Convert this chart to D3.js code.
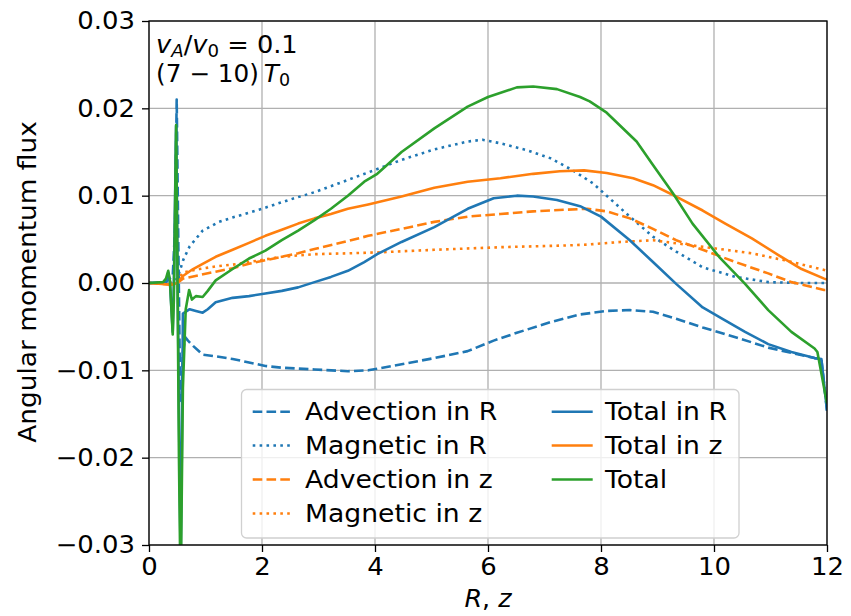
<!DOCTYPE html>
<html><head><meta charset="utf-8">
<script src="https://cdn.jsdelivr.net/npm/d3@7"></script>
<style>
body{margin:0;background:#fff;}
svg text{font-family:"DejaVu Sans",sans-serif;fill:#000;}
</style></head><body>
<svg id="c" width="851" height="616"></svg>
<script>
// ---- data (R, flux) ----
const advR = [[0,0],[0.3,0.0001],[0.42,0.0008],[0.46,0.006],[0.49,0.021],[0.52,0.004],[0.55,-0.012],[0.57,-0.0135],[0.6,-0.008],[0.64,-0.0062],[0.69,-0.0066],[0.78,-0.0072],[0.95,-0.0082],[1.18,-0.0084],[1.48,-0.0087],[1.77,-0.0091],[2.06,-0.0095],[2.35,-0.0097],[2.93,-0.0099],[3.52,-0.0101],[3.88,-0.0100],[4.47,-0.0093],[5.05,-0.0086],[5.64,-0.0078],[6.1,-0.0066],[6.51,-0.0057],[7.1,-0.0045],[7.63,-0.0036],[8.1,-0.0032],[8.51,-0.0031],[8.92,-0.0033],[9.33,-0.0041],[9.8,-0.0051],[10.38,-0.0062],[10.96,-0.0074],[11.37,-0.0080],[11.78,-0.0086],[11.9,-0.0087],[12,-0.0146]];
const magR = [[0,0],[0.4,0],[0.5,0.0005],[0.55,0.0015],[0.61,0.0027],[0.72,0.0042],[0.95,0.006],[1.24,0.007],[1.48,0.0075],[2,0.0085],[2.47,0.0095],[2.93,0.0104],[3.52,0.0118],[3.98,0.0129],[4.47,0.0141],[5.05,0.0153],[5.64,0.0162],[5.9,0.0164],[6.22,0.016],[6.69,0.0152],[7.1,0.0143],[7.5,0.0129],[7.86,0.0114],[8.1,0.01],[8.51,0.0076],[8.92,0.0053],[9.33,0.0036],[9.8,0.0018],[10.38,0.0007],[10.96,0.0001],[11.5,0],[12,0]];
const advZ = [[0,0],[0.4,-0.0002],[0.5,0],[0.6,0.0005],[0.89,0.0009],[1.18,0.0013],[1.48,0.0017],[1.77,0.0022],[2.06,0.0026],[2.35,0.003],[2.64,0.0034],[2.93,0.0039],[3.52,0.0048],[3.88,0.0054],[4.47,0.0062],[5.05,0.007],[5.64,0.0076],[6.22,0.0079],[6.8,0.0082],[7.39,0.0084],[7.76,0.0085],[8.1,0.0082],[8.51,0.0074],[8.92,0.0062],[9.33,0.0049],[9.8,0.0038],[10.38,0.0024],[10.96,0.0011],[11.37,0.0001],[11.95,-0.0008],[12,-0.0008]];
const magZ = [[0,0],[0.4,0],[0.5,0.0002],[0.6,0.0012],[0.89,0.0016],[1.18,0.0019],[1.48,0.0021],[1.77,0.0024],[2.35,0.003],[2.93,0.0033],[3.52,0.0034],[4.04,0.0035],[5.05,0.0038],[6.22,0.0041],[7.39,0.0043],[7.76,0.0044],[8.34,0.0047],[8.92,0.0049],[9.5,0.0044],[10.09,0.0039],[10.67,0.0034],[11.25,0.0026],[11.95,0.0015],[12,0.0014]];
const totR = [[0,0],[0.3,0],[0.34,0.0012],[0.37,0.0002],[0.42,-0.0056],[0.44,0.0],[0.48,0.018],[0.5,0.005],[0.53,-0.015],[0.56,-0.032],[0.58,-0.02],[0.6,-0.0035],[0.72,-0.003],[0.83,-0.0032],[0.95,-0.0034],[1.04,-0.003],[1.18,-0.0022],[1.48,-0.0017],[1.77,-0.0015],[2.06,-0.0012],[2.35,-0.0009],[2.64,-0.0005],[2.93,0.0001],[3.22,0.0007],[3.52,0.0014],[3.81,0.0024],[4.04,0.0033],[4.47,0.0047],[5.05,0.0064],[5.64,0.0085],[6.1,0.0097],[6.51,0.01],[6.8,0.0099],[7.22,0.0095],[7.63,0.0088],[8.0,0.0076],[8.51,0.0049],[8.92,0.0024],[9.33,-0.0001],[9.8,-0.0028],[10.15,-0.0041],[10.55,-0.0056],[10.96,-0.007],[11.37,-0.0079],[11.78,-0.0086],[11.9,-0.0087],[12,-0.0146]];
const totZ = [[0,0],[0.4,-0.0002],[0.5,0],[0.6,0.0008],[0.78,0.0016],[0.95,0.0022],[1.18,0.003],[1.48,0.0038],[1.77,0.0046],[2.06,0.0054],[2.35,0.0061],[2.64,0.0068],[2.93,0.0074],[3.22,0.0079],[3.52,0.0085],[3.88,0.009],[4.47,0.0099],[5.05,0.0109],[5.64,0.0116],[6.22,0.012],[6.8,0.0125],[7.27,0.0128],[7.7,0.0129],[8.1,0.0126],[8.57,0.012],[8.92,0.0112],[9.33,0.0099],[9.8,0.0083],[10.2,0.0068],[10.67,0.0051],[11.14,0.0032],[11.55,0.0016],[11.95,0.0005],[12,0.0004]];
const total = [[0,0],[0.25,0.0001],[0.3,0.0005],[0.34,0.0014],[0.37,0.0003],[0.42,-0.0059],[0.44,-0.002],[0.48,0.0181],[0.5,0.004],[0.53,-0.02],[0.56,-0.036],[0.6,-0.012],[0.65,-0.003],[0.71,-0.0008],[0.76,-0.0019],[0.83,-0.0015],[0.95,-0.0016],[1.04,-0.0009],[1.18,0.0003],[1.48,0.0016],[1.77,0.0028],[2.06,0.0037],[2.35,0.0049],[2.64,0.006],[2.93,0.0072],[3.22,0.0085],[3.52,0.01],[3.81,0.0116],[4.04,0.0125],[4.47,0.015],[5.05,0.0177],[5.64,0.0202],[6.0,0.0213],[6.51,0.0224],[6.8,0.0225],[7.22,0.0222],[7.63,0.0213],[7.8,0.0208],[8.1,0.0195],[8.63,0.0162],[8.92,0.0135],[9.27,0.0103],[9.62,0.0068],[10.09,0.003],[10.55,-0.0001],[10.96,-0.0031],[11.37,-0.0056],[11.78,-0.0075],[11.83,-0.0079],[12,-0.0138]];

const xTicks = [0,2,4,6,8,10,12];
const yTicks = [-0.03,-0.02,-0.01,0,0.01,0.02,0.03];
const seriesNames = ["Advection in R","Magnetic in R","Advection in z","Magnetic in z","Total in R","Total in z","Total"];

// ---- styles ----
const C = {blue:"#1f77b4", orange:"#ff7f0e", green:"#2ca02c"};
const LW = 2.6;
const DASH = "9.6,4.2", DOT = "2.6,4.3";
const series = [
  {d:advR, c:C.blue, dash:DASH},
  {d:magR, c:C.blue, dash:DOT},
  {d:advZ, c:C.orange, dash:DASH},
  {d:magZ, c:C.orange, dash:DOT},
  {d:totR, c:C.blue, dash:null},
  {d:totZ, c:C.orange, dash:null},
  {d:total, c:C.green, dash:null}
];

const L=149, R=827, T=21, B=545;
const x = d3.scaleLinear().domain([0,12]).range([L,R]);
const y = d3.scaleLinear().domain([-0.03,0.03]).range([B,T]);
const svg = d3.select("#c");
const FS = 24;
const fmt = v => (v<0?"\u2212":"") + Math.abs(v).toFixed(2);

// stretch text horizontally about its anchor point
function stretch(sel, sx){
  sel.each(function(){
    const t = d3.select(this);
    const ax = +t.attr("x")||0, ay = +t.attr("y")||0;
    t.attr("transform",`translate(${ax},${ay}) scale(${sx},1) translate(${-ax},${-ay})`);
  });
}

// grid
const g = svg.append("g");
g.selectAll(".gx").data(xTicks).join("line").attr("x1",d=>x(d)).attr("x2",d=>x(d)).attr("y1",T).attr("y2",B)
 .attr("stroke","#b0b0b0").attr("stroke-width",1.3);
g.selectAll(".gy").data(yTicks).join("line").attr("y1",d=>y(d)).attr("y2",d=>y(d)).attr("x1",L).attr("x2",R)
 .attr("stroke","#b0b0b0").attr("stroke-width",1.3);

// lines
svg.append("clipPath").attr("id","clip").append("rect").attr("x",L).attr("y",T).attr("width",R-L).attr("height",B-T);
const line = d3.line().x(d=>x(d[0])).y(d=>y(d[1]));
const lg = svg.append("g").attr("clip-path","url(#clip)");
series.forEach(s=>{
  lg.append("path").attr("d",line(s.d)).attr("fill","none").attr("stroke",s.c)
    .attr("stroke-width",LW).attr("stroke-linejoin","round")
    .attr("stroke-dasharray",s.dash);
});

// axes
const xa = svg.append("g").attr("transform",`translate(0,${B})`)
  .call(d3.axisBottom(x).tickValues(xTicks).tickFormat(d3.format("d")).tickSize(7).tickPadding(6));
const ya = svg.append("g").attr("transform",`translate(${L},0)`)
  .call(d3.axisLeft(y).tickValues(yTicks).tickFormat(fmt).tickSize(7).tickPadding(7));
[xa,ya].forEach(a=>{
  a.select(".domain").remove();
  a.selectAll("line").attr("stroke","#000").attr("stroke-width",1.3);
  a.selectAll("text").attr("font-size",FS).attr("font-family","DejaVu Sans").attr("fill","#000");
  stretch(a.selectAll("text"),1.08);
});
// frame
svg.append("rect").attr("x",L).attr("y",T).attr("width",R-L).attr("height",B-T)
  .attr("fill","none").attr("stroke","#000").attr("stroke-width",1.3);

// axis labels
svg.append("text").attr("transform",`translate(36,282) rotate(-90) scale(1.1,1)`).attr("text-anchor","middle")
  .attr("font-size",FS).text("Angular momentum flux");
const xl = svg.append("text").attr("x",488).attr("y",607).attr("text-anchor","middle").attr("font-size",FS);
xl.append("tspan").attr("font-style","italic").text("R");
xl.append("tspan").text(", ");
xl.append("tspan").attr("font-style","italic").text("z");
stretch(xl,1.06);

// annotation
const t1 = svg.append("text").attr("x",156).attr("y",53).attr("font-size",FS);
t1.append("tspan").attr("font-style","italic").text("v");
t1.append("tspan").attr("font-style","italic").attr("font-size",17).attr("dy",4).text("A");
t1.append("tspan").attr("dy",-4).text("/");
t1.append("tspan").attr("font-style","italic").text("v");
t1.append("tspan").attr("font-size",17).attr("dy",4).text("0");
t1.append("tspan").attr("dy",-4).text(" = 0.1");
const t2 = svg.append("text").attr("x",156).attr("y",82).attr("font-size",FS);
t2.append("tspan").text("(7 \u2212 10)\u2009");
t2.append("tspan").attr("font-style","italic").text("T");
t2.append("tspan").attr("font-size",17).attr("dy",4).text("0");
stretch(t1,1.07); stretch(t2,1.03);

// legend
const lgd = svg.append("g");
lgd.append("rect").attr("x",241.5).attr("y",389.5).attr("width",497.5).attr("height",148.5).attr("rx",5)
  .attr("fill","#fff").attr("fill-opacity",0.8).attr("stroke","#d0d0d0").attr("stroke-width",1.3);
const rowY = [411.7,445.5,479.5,513.5];
series.forEach((s,i)=>{
  const col = i<4?0:1, row = i<4?i:i-4;
  const hx = col===0?252.7:551.7;
  const tx = col===0?305:605;
  const yy = rowY[row];
  lgd.append("line").attr("x1",hx).attr("x2",hx+41).attr("y1",yy).attr("y2",yy)
    .attr("stroke",s.c).attr("stroke-width",LW).attr("stroke-dasharray",s.dash);
  const tt = lgd.append("text").attr("x",tx).attr("y",yy+8.7).attr("font-size",FS).text(seriesNames[i]);
  stretch(tt,1.11);
});
</script>
</body></html>
